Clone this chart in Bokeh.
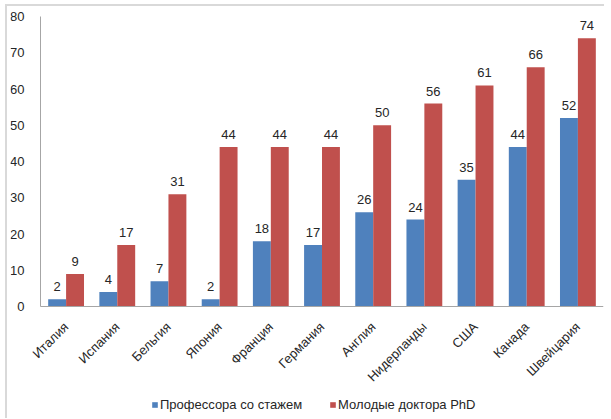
import math
from bokeh.plotting import figure
from bokeh.models import (ColumnDataSource, Range1d, Legend, LegendItem, FixedTicker,
                          LinearAxis)
from bokeh.transform import dodge
from bokeh.core.properties import value
from bokeh.embed import file_html
from bokeh.resources import INLINE

countries = ["Италия", "Испания", "Бельгия", "Япония", "Франция", "Германия",
             "Англия", "Нидерланды", "США", "Канада", "Швейцария"]
professors = [2, 4, 7, 2, 18, 17, 26, 24, 35, 44, 52]
young_phd = [9, 17, 31, 44, 44, 44, 50, 56, 61, 66, 74]
y_ticks = [0, 10, 20, 30, 40, 50, 60, 70, 80]
series_names = ["Профессора со стажем", "Молодые доктора PhD"]

FONT = "Liberation Sans"
TXT = "#262626"
FS = "13px"

n = len(countries)
pos = [i + 0.5 for i in range(n)]  # category centres on a numeric scale

src = ColumnDataSource(dict(
    pos=pos,
    prof=professors,
    phd=young_phd,
    prof_lbl=[str(v) for v in professors],
    phd_lbl=[str(v) for v in young_phd],
))

# The frame extends left of the first category, above 80 and below zero so that
# all axis labels and the legend sit inside it (51.18 px per category, 3.625 px per unit)
FRAME_W = 593
FRAME_H = 410
PX_PER_UNIT = 3.625
Y_MAX = 80
x_min = -30 / (563 / n)
y_top = Y_MAX + 8 / PX_PER_UNIT
y_min = y_top - FRAME_H / PX_PER_UNIT

p = figure(x_range=Range1d(x_min, n), y_range=Range1d(y_min, y_top),
           frame_width=FRAME_W, frame_height=FRAME_H, output_backend="svg",
           toolbar_location=None,
           min_border_left=3, min_border_right=1, min_border_top=2,
           min_border_bottom=0, x_axis_location=None, y_axis_location=None)
p.styles = {"margin-left": "5px", "margin-top": "4px",
            "border-left": "2px solid #d9d9d9", "border-top": "2px solid #d9d9d9"}
p.xgrid.visible = False
p.ygrid.visible = False
p.outline_line_color = None
p.background_fill_color = "white"
p.border_fill_color = "white"

blue = "#4F81BD"
red = "#C0504D"
r1 = p.vbar(x=dodge("pos", -0.175), top="prof", width=0.35,
            source=src, fill_color=blue, line_color=None)
r2 = p.vbar(x=dodge("pos", 0.175), top="phd", width=0.35,
            source=src, fill_color=red, line_color=None)

for xoff, col, lbl in [(-0.175, "prof", "prof_lbl"), (0.175, "phd", "phd_lbl")]:
    p.text(x=dodge("pos", xoff), y=col, text=lbl, source=src,
           text_align="center", text_baseline="bottom", y_offset=-8,
           text_font=value(FONT), text_font_size=FS, text_color=TXT)

xaxis = LinearAxis(fixed_location=0, bounds=(0, n),
                   ticker=FixedTicker(ticks=pos),
                   major_label_overrides={pv: c for pv, c in zip(pos, countries)})
yaxis = LinearAxis(fixed_location=0, bounds=(0, Y_MAX),
                   ticker=FixedTicker(ticks=y_ticks))
p.add_layout(xaxis, "below")
p.add_layout(yaxis, "left")
for ax in (xaxis, yaxis):
    ax.axis_line_color = "#a6a6a6"
    ax.major_tick_line_color = None
    ax.minor_tick_line_color = None
    ax.major_label_text_font = FONT
    ax.major_label_text_font_size = FS
    ax.major_label_text_color = TXT
yaxis.major_label_standoff = 10
xaxis.major_label_orientation = math.pi / 4
xaxis.major_label_standoff = 12

legend = Legend(items=[LegendItem(label=series_names[0], renderers=[r1]),
                       LegendItem(label=series_names[1], renderers=[r2])],
                orientation="horizontal", location=(141, 6),
                border_line_color=None, background_fill_alpha=0,
                glyph_width=7, glyph_height=7, label_standoff=2, spacing=27,
                label_text_font=FONT, label_text_font_size=FS,
                label_text_color=TXT, padding=0, margin=0)
p.add_layout(legend, "center")

open("out.html", "w").write(file_html(p, INLINE))
